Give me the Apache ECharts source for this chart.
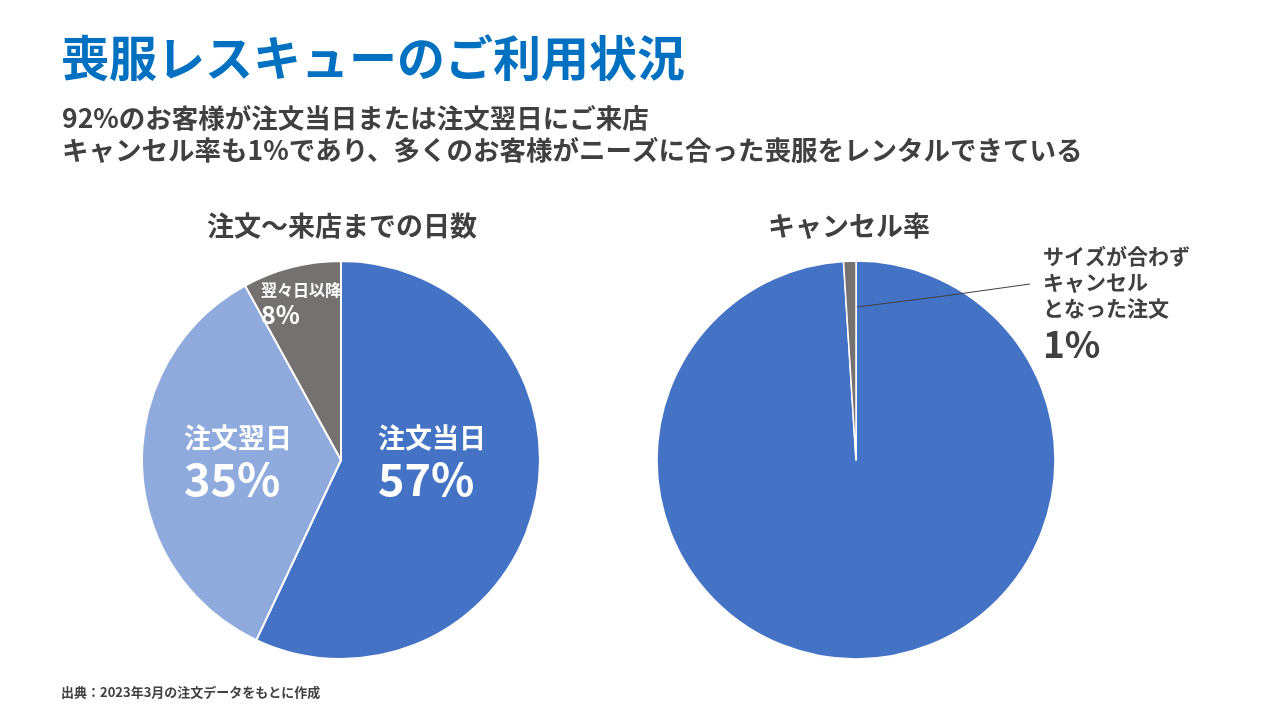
<!DOCTYPE html>
<html>
<head>
<meta charset="utf-8">
<script src="https://cdn.jsdelivr.net/npm/echarts@6/dist/echarts.min.js"></script>
<style>
  html, body { margin: 0; padding: 0; background: #fff; }
  #main { width: 1280px; height: 720px; }
</style>
</head>
<body>
<div id="main"></div>
<script>
// 注文〜来店までの日数
var dayNames = ['注文当日', '注文翌日', '翌々日以降'];
var dayValues = [57, 35, 8];
// キャンセル率
var cancelNames = ['ご来店', 'サイズが合わず\nキャンセル\nとなった注文'];
var cancelValues = [99, 1];

var FONT = '"Noto Sans CJK JP", "Noto Sans", sans-serif';
var GREY_TEXT = '#404040';

var chart = echarts.init(document.getElementById('main'));

function toData(names, values) {
  return names.map(function (n, i) { return { name: n, value: values[i] }; });
}

var option = {
  backgroundColor: '#fff',
  textStyle: { fontFamily: FONT },
  title: [
    {
      text: '喪服レスキューのご利用状況',
      left: 56, top: 29,
      textStyle: { fontFamily: FONT, fontSize: 48, fontWeight: 'bold', color: '#0070C0' }
    },
    {
      text: '92%のお客様が注文当日または注文翌日にご来店\nキャンセル率も1%であり、多くのお客様がニーズに合った喪服をレンタルできている',
      left: 57, top: 97,
      textStyle: { fontFamily: FONT, fontSize: 26.5, fontWeight: 'bold', color: GREY_TEXT, lineHeight: 32 }
    },
    {
      text: '注文〜来店までの日数',
      left: 337, top: 207, textAlign: 'center',
      textStyle: { fontFamily: FONT, fontSize: 27, fontWeight: 'bold', color: GREY_TEXT }
    },
    {
      text: 'キャンセル率',
      left: 844, top: 207, textAlign: 'center',
      textStyle: { fontFamily: FONT, fontSize: 27, fontWeight: 'bold', color: GREY_TEXT }
    },
    {
      text: '出典：2023年3月の注文データをもとに作成',
      left: 56, top: 681,
      textStyle: { fontFamily: FONT, fontSize: 13, fontWeight: 'bold', color: GREY_TEXT }
    }
  ],
  series: [
    {
      type: 'pie',
      center: [341, 460],
      radius: [0, 199],
      startAngle: 90,
      clockwise: true,
      silent: true,
      animation: false,
      color: ['#4472C4', '#8FAADC', '#767171'],
      itemStyle: { borderColor: '#fff', borderWidth: 2 },
      label: {
        show: true,
        position: 'inside',
        formatter: function (p) { return '{n|' + p.name + '}\n{p|' + p.value + '%}'; },
        rich: {
          n: { fontFamily: FONT, fontSize: 27, fontWeight: 'bold', color: '#fff', align: 'left', lineHeight: 33 },
          p: { fontFamily: FONT, fontSize: 45, fontWeight: 'bold', color: '#fff', align: 'left', lineHeight: 50 }
        }
      },
      labelLine: { show: false },
      labelLayout: function (p) {
        var pos = [[378, 421], [184, 421], [261, 280]];
        return { x: pos[p.dataIndex][0], y: pos[p.dataIndex][1], align: 'left', verticalAlign: 'top' };
      },
      data: toData(dayNames, dayValues).map(function (d, i) {
        if (i === 2) {
          d.label = {
            rich: {
              n: { fontFamily: FONT, fontSize: 16, fontWeight: 'bold', color: '#fff', align: 'left', lineHeight: 20 },
              p: { fontFamily: FONT, fontSize: 25, fontWeight: 'bold', color: '#fff', align: 'left', lineHeight: 28 }
            }
          };
        }
        return d;
      })
    },
    {
      // キャンセル率の円
      type: 'pie',
      center: [856, 460],
      radius: [0, 199],
      startAngle: 90,
      clockwise: true,
      silent: true,
      animation: false,
      color: ['#4472C4', '#767171'],
      itemStyle: { borderColor: '#fff', borderWidth: 1.5 },
      label: { show: false },
      labelLine: { show: false },
      data: toData(cancelNames, cancelValues)
    },
    {
      // 同じデータの透明な円を上に重ねて、ラベルと引き出し線を前面に描く
      type: 'pie',
      z: 5,
      center: [856, 460],
      radius: [0, 199],
      startAngle: 90,
      clockwise: true,
      silent: true,
      animation: false,
      itemStyle: { color: 'rgba(0,0,0,0)', borderWidth: 0 },
      label: { show: false },
      labelLine: { show: false },
      data: toData(cancelNames, cancelValues).map(function (d, i) {
        if (i === 1) {
          d.label = {
            show: true,
            position: 'outside',
            formatter: function (p) { return '{n|' + p.name + '}\n{p|' + p.value + '%}'; },
            rich: {
              n: { fontFamily: FONT, fontSize: 21, fontWeight: 'bold', color: GREY_TEXT, align: 'left', lineHeight: 26 },
              p: { fontFamily: FONT, fontSize: 37, fontWeight: 'bold', color: GREY_TEXT, align: 'left', lineHeight: 46 }
            }
          };
          d.labelLine = { show: true, lineStyle: { color: '#404040', width: 1 } };
        }
        return d;
      }),
      labelLayout: function (p) {
        if (p.dataIndex !== 1) return {};
        return {
          x: 1043, y: 243, align: 'left', verticalAlign: 'top',
          labelLinePoints: [[857, 307], [944, 296], [1030, 284]]
        };
      }
    }
  ]
};

chart.setOption(option);
</script>
</body>
</html>
